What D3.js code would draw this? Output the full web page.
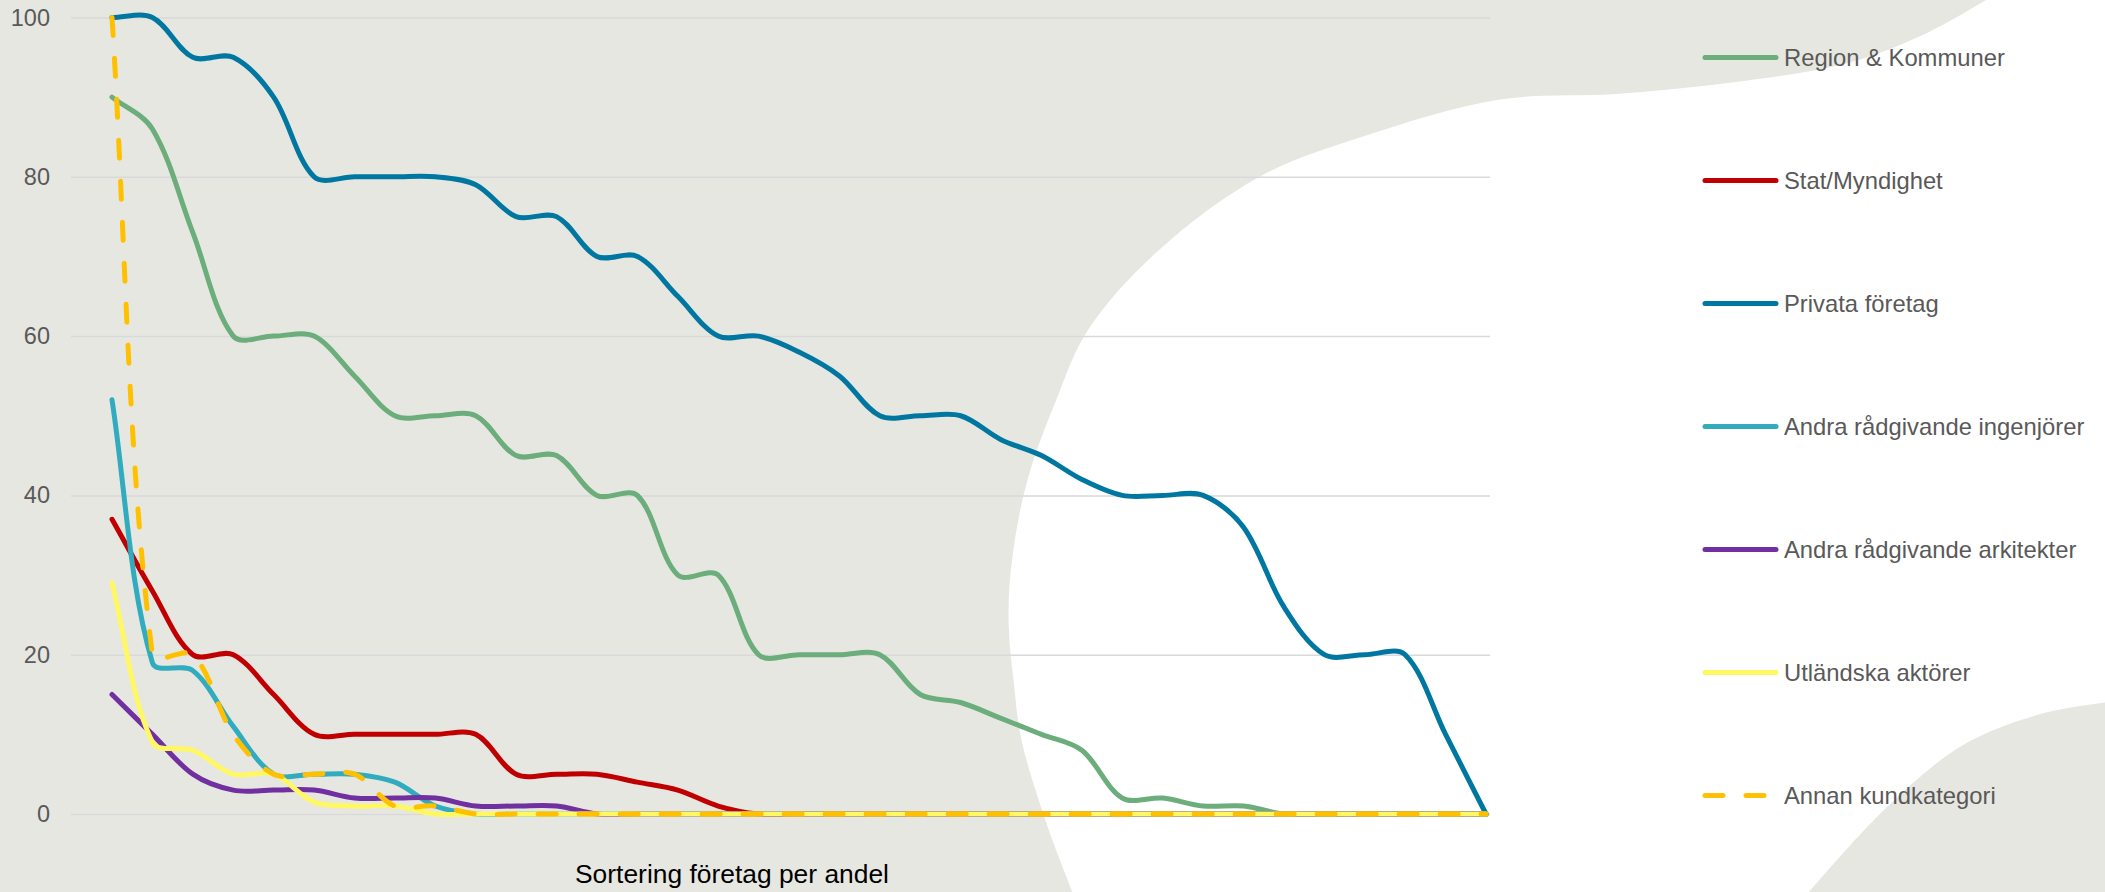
<!DOCTYPE html>
<html>
<head>
<meta charset="utf-8">
<script src="https://d3js.org/d3.v7.min.js"></script>
<style>
    body { margin: 0; background: #fff; }
    text { font-family: 'Liberation Sans', Arial, sans-serif; }
</style>
</head>
<body>
<div id="chart"></div>
<script>
// companies, sorted per series by share (andel)
const foretag = [1,2,3,4,5,6,7,8,9,10,11,12,13,14,15,16,17,18,19,20,21,22,23,24,25,26,27,28,29,30,31,32,33,34,35];

const regionKommuner = [90,86,73,60,60,60,55,50,50,50,45,45,40,40,30,30,20,20,20,20,15,14,12,10,8,2,2,1,1,0,0,0,0,0,0];
const statMyndighet  = [37,28,20,20,15,10,10,10,10,10,5,5,5,4,3,1,0,0,0,0,0,0,0,0,0,0,0,0,0,0,0,0,0,0,0];
const privataForetag = [100,100,95,95,90,80,80,80,80,79,75,75,70,70,65,60,60,58,55,50,50,50,47,45,42,40,40,40,36,26,20,20,20,10,0];
const andraIngenjorer = [52,19,18,11,5,5,5,4,1,0,0,0,0,0,0,0,0,0,0,0,0,0,0,0,0,0,0,0,0,0,0,0,0,0,0];
const andraArkitekter = [15,10,5,3,3,3,2,2,2,1,1,1,0,0,0,0,0,0,0,0,0,0,0,0,0,0,0,0,0,0,0,0,0,0,0];
const utlandska = [29,9,8,5,5,1.5,1,1,0,0,0,0,0,0,0,0,0,0,0,0,0,0,0,0,0,0,0,0,0,0,0,0,0,0,0];
const annanKund = [100,20,20,10,5,5,5,1,1,0,0,0,0,0,0,0,0,0,0,0,0,0,0,0,0,0,0,0,0,0,0,0,0,0,0];

const seriesNames = ['Region & Kommuner','Stat/Myndighet','Privata företag','Andra rådgivande ingenjörer','Andra rådgivande arkitekter','Utländska aktörer','Annan kundkategori'];
const seriesValues = [regionKommuner, statMyndighet, privataForetag, andraIngenjorer, andraArkitekter, utlandska, annanKund];
const seriesColors = ['#6bad7b','#c00000','#0077a0','#31acbe','#7030a0','#fff864','#ffc000'];
const yTicks = [0,20,40,60,80,100];
const xTitle = 'Sortering företag per andel';

// background decoration outlines
const whiteEdge = [[1986,0],[1925,34],[1848,63],[1732,82.5],[1616,94],[1500,99.5],[1363,136.5],[1261,176],[1159,250],[1088,330],[1057,398],[1026.5,483.5],[1011,569],[1008.7,625.7],[1013.8,682.6],[1021.4,739.5],[1047,824.8],[1072.4,892]];
const blobEdge = [[1809,892],[1886,808],[1963,745],[2040.5,714],[2105,702.5]];

const w = 2105;
const h = 892;
const bg = '#e7e7e2';

// smoothing like the spreadsheet one: bezier handles weighted by segment lengths
function SmoothCurve(context) { this._context = context; }
SmoothCurve.prototype = {
    areaStart() {}, areaEnd() {},
    lineStart() { this._pts = []; },
    point(x, y) { this._pts.push([+x, +y]); },
    lineEnd() {
        const p = this._pts, n = p.length, c = this._context;
        if (!n) return;
        const dist = (a, b) => Math.hypot(b[0] - a[0], b[1] - a[1]);
        c.moveTo(p[0][0], p[0][1]);
        for (let i = 0; i < n - 1; i++) {
            const p0 = p[Math.max(i - 1, 0)], p1 = p[i], p2 = p[i + 1], p3 = p[Math.min(i + 2, n - 1)];
            const dPrev = dist(p0, p1), d = dist(p1, p2), dNext = dist(p2, p3);
            const f1 = d / (dPrev + d) / 3, f2 = d / (d + dNext) / 3;
            c.bezierCurveTo(p1[0] + (p2[0] - p0[0]) * f1, p1[1] + (p2[1] - p0[1]) * f1,
                            p2[0] - (p3[0] - p1[0]) * f2, p2[1] - (p3[1] - p1[1]) * f2,
                            p2[0], p2[1]);
        }
    }
};
const curveSmooth = context => new SmoothCurve(context);

const svg = d3.select('#chart')
              .append('svg')
              .attr('width', w)
              .attr('height', h);

svg.append('rect').attr('width', w).attr('height', h).attr('fill', bg);
const edge = d3.line().curve(d3.curveCatmullRom);
svg.append('path').attr('d', edge(whiteEdge) + 'L2105,892L2105,0Z').attr('fill', '#fff');
svg.append('path').attr('d', edge(blobEdge) + 'L2105,892Z').attr('fill', bg);

const xScale = d3.scaleLinear()
                 .domain([0, foretag.length - 1])
                 .range([112, 1486]);
const yScale = d3.scaleLinear()
                 .domain([0, 100])
                 .range([814, 17.5]);

const gridLeft = 71, gridRight = 1490;
const yAxis = d3.axisLeft(yScale)
                .tickValues(yTicks)
                .tickSize(-(gridRight - gridLeft))
                .tickPadding(21);

const gy = svg.append('g')
              .attr('transform', 'translate(' + gridLeft + ',0)')
              .call(yAxis);
gy.select('.domain').remove();
gy.selectAll('.tick line').attr('stroke', '#d9d9d9').attr('stroke-width', 1.5);
gy.selectAll('.tick text')
  .attr('fill', '#595959')
  .style('font-size', '23.5px')
  .style('font-family', "'Liberation Sans', Arial, sans-serif");

const line = d3.line()
               .x((d, i) => xScale(i))
               .y(d => yScale(d))
               .curve(curveSmooth);

seriesValues.forEach((vals, s) => {
    svg.append('path')
       .datum(vals)
       .attr('d', line)
       .attr('fill', 'none')
       .attr('stroke', seriesColors[s])
       .attr('stroke-width', 5)
       .attr('stroke-linecap', 'round')
       .attr('stroke-linejoin', 'round')
       .attr('stroke-dasharray', s === 6 ? '18,23' : null);
});

// legend
const legend = svg.append('g');
seriesNames.forEach((name, s) => {
    const ly = 57.5 + s * 123;
    legend.append('line')
          .attr('x1', 1705).attr('x2', 1776)
          .attr('y1', ly).attr('y2', ly)
          .attr('stroke', seriesColors[s])
          .attr('stroke-width', 5)
          .attr('stroke-linecap', 'round')
          .attr('stroke-dasharray', s === 6 ? '18,23' : null);
    legend.append('text')
          .attr('x', 1784).attr('y', ly)
          .attr('dy', '0.35em')
          .attr('fill', '#595959')
          .style('font-size', '23.8px')
          .text(name);
});

svg.append('text')
   .attr('x', 732).attr('y', 882.5)
   .attr('text-anchor', 'middle')
   .attr('fill', '#000')
   .style('font-size', '26.4px')
   .text(xTitle);
</script>
</body>
</html>
